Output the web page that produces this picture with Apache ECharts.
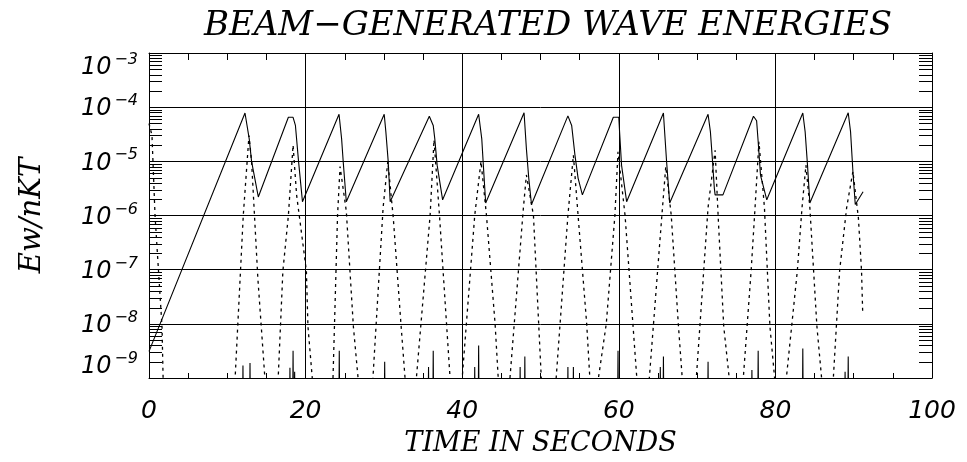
<!DOCTYPE html>
<html>
<head>
<meta charset="utf-8">
<script src="https://cdn.jsdelivr.net/npm/echarts@6/dist/echarts.min.js"></script>
<style>
html,body{margin:0;padding:0;background:#fff;}
#c{width:967px;height:462px;}
</style>
</head>
<body>
<div id="c"></div>
<script>
// ---- data ----
const titleText = 'BEAM\u2212GENERATED WAVE ENERGIES';
const xName = 'TIME IN SECONDS';
const yName = 'Ew/nKT';
const xTicks = [0, 20, 40, 60, 80, 100];
const yTickExponents = [-9, -8, -7, -6, -5, -4, -3];

// solid curve (time [s], energy)
const solidT = [0, 12.26, 12.8, 13.1, 13.96, 17.8, 18.4, 18.7, 19.1, 19.6, 24.27, 24.6, 24.8, 25.2,
  30.04, 30.25, 30.55, 30.8, 35.8, 36.3, 36.5, 36.8, 37.5, 42.1, 42.5, 42.7, 43.0,
  47.9, 48.2, 48.5, 48.85, 53.5, 53.98, 54.4, 54.8, 55.35, 59.3, 60.0, 60.1, 60.35, 61.0,
  65.7, 65.8, 66.1, 66.5, 71.4, 71.7, 71.97, 72.2, 72.3, 73.3, 77.2, 77.6, 77.8, 78.1, 78.9,
  83.5, 83.8, 84.1, 84.4, 89.3, 89.6, 89.9, 90.2, 91.2];
const solidV = [3.1e-9, 7.8e-5, 2.6e-5, 1.0e-5, 2.2e-6, 6.5e-5, 6.5e-5, 4.6e-5, 1.0e-5, 1.8e-6, 7.4e-5, 2.6e-5, 1.0e-5, 1.8e-6,
  7.4e-5, 3.5e-5, 1.0e-5, 1.8e-6, 6.8e-5, 4.6e-5, 2.6e-5, 8.5e-6, 1.95e-6, 7.4e-5, 2.6e-5, 8.5e-6, 1.7e-6,
  7.9e-5, 1.7e-5, 4.9e-6, 1.6e-6, 6.9e-5, 4.6e-5, 1.3e-5, 4.9e-6, 2.4e-6, 6.5e-5, 6.5e-5, 3.5e-5, 8.5e-6, 1.8e-6,
  7.8e-5, 4.6e-5, 1.0e-5, 1.7e-6, 7.4e-5, 3.5e-5, 1.0e-5, 3.2e-6, 2.4e-6, 2.4e-6, 6.8e-5, 5.6e-5, 2.3e-5, 5.5e-6, 1.95e-6,
  7.8e-5, 3.5e-5, 8.5e-6, 1.7e-6, 7.9e-5, 3.5e-5, 6.5e-6, 1.6e-6, 2.75e-6];

// dotted curve (time [s], energy) - drops below the axis floor between bursts
const dottedT = [0, 0.38, 0.77, 1.66, 1.8, 2.1,
  10.65, 11.0, 12.04, 12.77, 13.1, 13.9, 14.8, 15.2,
  16.15, 16.5, 17.1, 17.8, 18.4, 18.85, 20.1, 20.3, 20.85, 21.2,
  23.2, 23.5, 24.08, 24.4, 25.2, 26.1, 26.7, 27.1,
  28.3, 28.6, 29.9, 30.5, 31.2, 32.2, 32.7, 33.1,
  33.8, 34.15, 35.9, 36.4, 37.1, 38.0, 38.45, 38.8,
  39.7, 40.0, 41.6, 42.4, 43.1, 44.2, 44.6, 45.0,
  45.8, 46.1, 47.8, 48.2, 49.1, 50.1, 50.5,
  51.7, 52.0, 53.5, 54.2, 54.8, 55.9, 56.3, 56.7,
  57.1, 57.4, 58.4, 59.5, 59.9, 60.8, 61.8, 62.3, 62.7,
  63.6, 63.9, 65.5, 66.0, 66.7, 67.6, 68.1, 68.5,
  69.6, 69.9, 71.4, 72.3, 72.7, 73.4, 74.1, 74.5,
  75.6, 75.9, 76.9, 77.4, 77.9, 78.6, 79.3, 79.9, 80.3,
  81.0, 81.4, 82.8, 83.4, 83.9, 84.4, 85.3, 85.9, 86.3,
  87.0, 87.4, 88.2, 89.1, 89.9, 90.6, 91.0, 91.15];
const dottedV = [5e-5, 3e-5, 1e-6, 9e-9, 1e-9, 1e-10,
  1e-10, 1e-9, 1e-6, 3e-5, 1e-5, 7e-8, 1e-9, 1e-10,
  1e-10, 1e-9, 9.5e-8, 1e-6, 2e-5, 2.4e-6, 9.5e-8, 9e-9, 1e-9, 1e-10,
  1e-10, 1e-9, 1e-6, 8e-6, 1.2e-6, 9e-9, 1e-9, 1e-10,
  1e-10, 1e-9, 1.4e-6, 1e-5, 9e-7, 9e-9, 1e-9, 1e-10,
  1e-10, 1e-9, 1e-6, 2.5e-5, 1e-6, 1e-8, 1e-9, 1e-10,
  1e-10, 1e-9, 1e-6, 1e-5, 1e-6, 1e-8, 1e-9, 1e-10,
  1e-10, 1e-9, 1.3e-6, 5.6e-6, 1e-6, 1e-9, 1e-10,
  1e-10, 1e-9, 1e-6, 1.3e-5, 1e-6, 1e-8, 1e-9, 1e-10,
  1e-10, 1e-9, 1e-8, 1e-6, 1.5e-5, 1e-6, 1e-8, 1e-9, 1e-10,
  1e-10, 1e-9, 1e-6, 8e-6, 1e-6, 1e-8, 1e-9, 1e-10,
  1e-10, 1e-9, 1.4e-6, 1.6e-5, 9e-7, 9e-9, 1e-9, 1e-10,
  1e-10, 1e-9, 9.5e-8, 1.4e-6, 2.3e-5, 1.4e-6, 9e-9, 1e-9, 1e-10,
  1e-10, 1e-9, 9.5e-8, 1.4e-6, 8.5e-6, 1.4e-6, 9e-9, 1e-9, 1e-10,
  1e-10, 1e-9, 9.5e-8, 1.4e-6, 6.5e-6, 9e-7, 9.5e-8, 1.6e-8];

// small bursts just above the floor (time [s], peak energy)
const spikeT = [12.0, 12.9, 18.0, 18.4, 18.6, 24.3, 30.1, 35.7, 36.3, 41.6, 42.1, 47.4, 48.0,
  53.5, 54.2, 59.9, 65.3, 65.7, 71.4, 77.0, 77.8, 83.5, 88.9, 89.3];
const spikeV = [1.7e-9, 1.9e-9, 1.55e-9, 3.2e-9, 1.3e-9, 3.2e-9, 2.0e-9, 1.6e-9, 3.2e-9, 1.6e-9, 4.0e-9, 1.6e-9, 2.5e-9,
  1.6e-9, 1.6e-9, 3.2e-9, 1.6e-9, 2.5e-9, 2.0e-9, 1.4e-9, 3.2e-9, 3.5e-9, 1.3e-9, 2.5e-9];

// ---- build ----
const FLOOR = 1e-10;
const solidData = solidT.map((t, i) => [t, solidV[i]]);
const dottedData = dottedT.map((t, i) => [t, dottedV[i]]);
const spikeData = [];
spikeT.forEach((t, i) => {
  spikeData.push([t - 0.07, FLOOR], [t, spikeV[i]], [t + 0.07, FLOOR]);
  spikeData.push([t + 0.08, null]);
});

// log minor tick values (2..9 per decade)
const minorTickValues = [];
for (let e = yTickExponents[0]; e < yTickExponents[yTickExponents.length - 1]; e++) {
  for (let m = 2; m <= 9; m++) minorTickValues.push([0, m * Math.pow(10, e)]);
}

const serif = '"DejaVu Serif", "Liberation Serif", serif';
const sans = '"DejaVu Sans", "Liberation Sans", sans-serif';
const black = '#000';

const chart = echarts.init(document.getElementById('c'), null, {renderer: 'canvas'});
chart.setOption({
  backgroundColor: '#fff',
  animation: false,
  title: {
    text: titleText,
    left: 548,
    textAlign: 'center',
    top: 9,
    padding: 0,
    textStyle: {fontFamily: serif, fontStyle: 'italic', fontWeight: 'normal', fontSize: 34, color: black}
  },
  grid: {left: 149, right: 35, top: 53, bottom: 80, containLabel: false},
  xAxis: [{
    type: 'value', min: xTicks[0], max: xTicks[xTicks.length - 1], interval: 20,
    position: 'bottom',
    name: xName, nameLocation: 'middle', nameGap: 52,
    nameTextStyle: {fontFamily: serif, fontStyle: 'italic', fontSize: 27, color: black},
    axisLine: {show: true, onZero: false, lineStyle: {color: black, width: 1}},
    axisTick: {show: true, inside: true, length: 6, lineStyle: {color: black}},
    minorTick: {show: true, splitNumber: 4, length: 5, lineStyle: {color: black}},
    splitLine: {show: true, lineStyle: {color: black, width: 1}},
    axisLabel: {margin: 21, fontFamily: sans, fontStyle: 'italic', fontSize: 25, color: black,
      formatter: v => String(v)}
  }, {
    type: 'value', min: xTicks[0], max: xTicks[xTicks.length - 1], interval: 20,
    position: 'top',
    axisLine: {show: true, onZero: false, lineStyle: {color: black, width: 1}},
    axisTick: {show: true, inside: true, length: 7, lineStyle: {color: black}},
    minorTick: {show: true, splitNumber: 4, length: 7, lineStyle: {color: black}},
    splitLine: {show: false},
    axisLabel: {show: false}
  }],
  yAxis: [{
    type: 'log', logBase: 10, min: 1e-9, max: 1e-3, splitNumber: 6,
    position: 'left',
    name: yName, nameLocation: 'middle', nameGap: 102, nameRotate: 90,
    nameTextStyle: {fontFamily: serif, fontStyle: 'italic', fontSize: 29, color: black},
    axisLine: {show: true, onZero: false, lineStyle: {color: black, width: 1}},
    axisTick: {show: false},
    splitLine: {show: true, lineStyle: {color: black, width: 1}},
    axisLabel: {
      margin: 11, color: black,
      formatter: v => {
        const e = Math.round(Math.log10(v));
        const s = '{b|10}{s|\u2212' + Math.abs(e) + '}';
        if (e === yTickExponents[yTickExponents.length - 1]) return '{e|}\n' + s;
        if (e === yTickExponents[0]) return s + '\n{e|}';
        return s;
      },
      rich: {
        b: {fontFamily: sans, fontStyle: 'italic', fontSize: 24, lineHeight: 28, verticalAlign: 'bottom', color: black},
        s: {fontFamily: sans, fontStyle: 'italic', fontSize: 16, lineHeight: 16, verticalAlign: 'top', color: black, padding: [0, 0, 0, 3]},
        e: {fontSize: 10, lineHeight: 26}
      }
    }
  }, {
    type: 'log', logBase: 10, min: 1e-9, max: 1e-3, splitNumber: 6,
    position: 'right',
    axisLine: {show: true, onZero: false, lineStyle: {color: black, width: 1}},
    axisTick: {show: false},
    splitLine: {show: false},
    axisLabel: {show: false}
  }],
  series: [{
    type: 'custom',
    silent: true,
    xAxisIndex: 0, yAxisIndex: 0,
    data: minorTickValues,
    clip: false,
    renderItem: (params, api) => {
      const y = Math.round(api.coord([0, api.value(1)])[1]) + 0.5;
      const cs = params.coordSys;
      const L = 13;
      return {
        type: 'group',
        children: [
          {type: 'line', shape: {x1: cs.x, y1: y, x2: cs.x + L, y2: y}, style: {stroke: black, lineWidth: 1}},
          {type: 'line', shape: {x1: cs.x + cs.width - L, y1: y, x2: cs.x + cs.width, y2: y}, style: {stroke: black, lineWidth: 1}}
        ]
      };
    }
  }, {
    type: 'line', name: 'solid', data: solidData, showSymbol: false, clip: true,
    lineStyle: {color: black, width: 1.1}
  }, {
    type: 'line', name: 'dotted', data: dottedData, showSymbol: false, clip: true,
    lineStyle: {color: black, width: 1.3, type: [3, 4]}
  }, {
    type: 'line', name: 'low', data: spikeData, showSymbol: false, clip: true, connectNulls: false,
    lineStyle: {color: black, width: 1.1}
  }]
});
</script>
</body>
</html>
